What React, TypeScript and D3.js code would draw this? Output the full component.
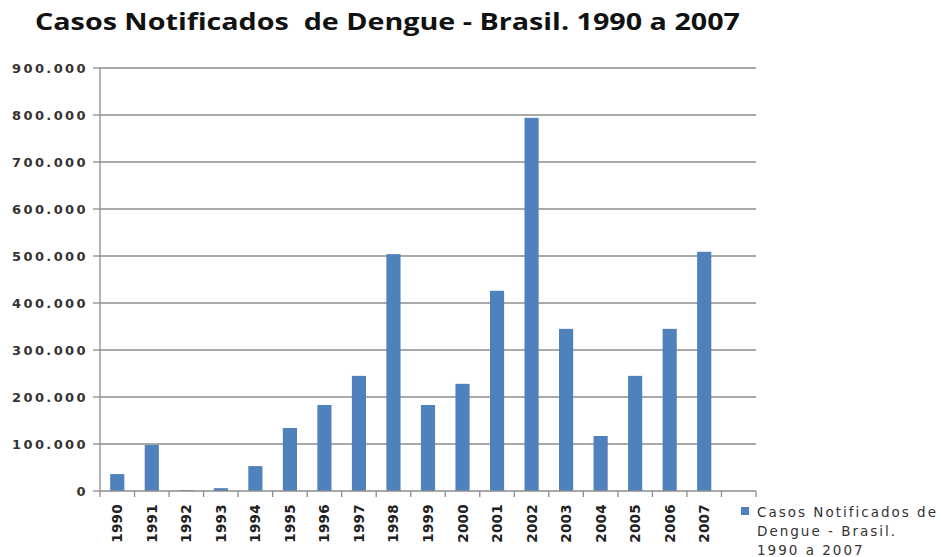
import React from 'react';
import * as d3 from 'd3';

const years = ['1990', '1991', '1992', '1993', '1994', '1995', '1996', '1997', '1998', '1999',
  '2000', '2001', '2002', '2003', '2004', '2005', '2006', '2007'];
const cases = [36000, 98000, 1700, 6000, 53000, 134000, 183000, 245000, 504000, 183000,
  228000, 426000, 794000, 345000, 117000, 245000, 345000, 509000];
const yTicks = [0, 100000, 200000, 300000, 400000, 500000, 600000, 700000, 800000, 900000];
const seriesName = ['Casos Notificados de', 'Dengue - Brasil.', '1990 a 2007'];

const W = 941;
const H = 557;
const LEFT = 100;
const RIGHT = 756;
const TOP = 68;
const BOTTOM = 491;

const fmt = (v: number) => (v === 0 ? '0' : d3.format(',')(v).replace(/,/g, '.'));
const FONT = "Verdana, 'DejaVu Sans', sans-serif";

export default function App() {
  // one extra empty slot after 2007, like the original
  const x = d3.scaleBand().domain([...years, '']).range([LEFT, RIGHT]).paddingInner(0).paddingOuter(0);
  const y = d3.scaleLinear().domain([0, 900000]).range([BOTTOM, TOP]);
  const bw = x.bandwidth() * 0.41;

  return (
    <svg width={W} height={H} style={{ position: 'absolute', left: 0, top: 0, background: '#fff' }}>
      <text x={35} y={30} fontFamily="'Open Sans', sans-serif" fontWeight="bold" fontSize={24}
        fill="#111" textLength={705} lengthAdjust="spacingAndGlyphs" style={{ whiteSpace: 'pre' }}>
        {'Casos Notificados  de Dengue - Brasil. 1990 a 2007'}
      </text>

      {yTicks.map((t) => (
        <g key={t}>
          {t > 0 && <line x1={LEFT} x2={RIGHT} y1={y(t)} y2={y(t)} stroke="#8c8c8c" strokeWidth={1.3} />}
          <line x1={LEFT - 7} x2={LEFT} y1={y(t)} y2={y(t)} stroke="#8c8c8c" strokeWidth={1.3} />
          <text x={LEFT - 12} y={y(t)} dy="0.35em" textAnchor="end" fontFamily={FONT}
            fontWeight="bold" fontSize={13} letterSpacing={2.4} fill="#333">
            {fmt(t)}
          </text>
        </g>
      ))}

      {years.map((yr, i) => (
        <rect key={yr} x={(x(yr) as number) + (x.bandwidth() - bw) / 2} y={y(cases[i])}
          width={bw} height={BOTTOM - y(cases[i])} fill="#4f81bd" />
      ))}

      <line x1={LEFT} x2={LEFT} y1={TOP} y2={BOTTOM} stroke="#8c8c8c" strokeWidth={1.3} />
      <line x1={LEFT} x2={RIGHT} y1={BOTTOM} y2={BOTTOM} stroke="#8c8c8c" strokeWidth={1.3} />
      {[...years, ''].map((yr, i) => (
        <line key={'t' + i} x1={(x(yr) as number)} x2={(x(yr) as number)} y1={BOTTOM} y2={BOTTOM + 6}
          stroke="#8c8c8c" strokeWidth={1.3} />
      ))}
      <line x1={RIGHT} x2={RIGHT} y1={BOTTOM} y2={BOTTOM + 6} stroke="#8c8c8c" strokeWidth={1.3} />

      {years.map((yr) => {
        const cx = (x(yr) as number) + x.bandwidth() / 2 + 5;
        return (
          <text key={'l' + yr} transform={`translate(${cx},${BOTTOM + 13}) rotate(-90)`} textAnchor="end"
            fontFamily={FONT} fontWeight="bold" fontSize={13.5} letterSpacing={0.3} fill="#222">
            {yr}
          </text>
        );
      })}

      <rect x={741} y={507} width={8} height={8} fill="#4f81bd" />
      {seriesName.map((s, i) => (
        <text key={s} x={757} y={517 + i * 19} fontFamily={FONT} fontSize={13.5} letterSpacing={2} fill="#333">
          {s}
        </text>
      ))}
    </svg>
  );
}
